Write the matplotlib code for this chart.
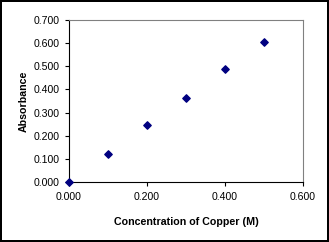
import matplotlib.pyplot as plt

# data
concentration = [0.0, 0.1, 0.2, 0.3, 0.4, 0.5]
absorbance = [0.000, 0.123, 0.248, 0.361, 0.490, 0.605]
x_ticks = [0.0, 0.2, 0.4, 0.6]
y_ticks = [0.0, 0.1, 0.2, 0.3, 0.4, 0.5, 0.6, 0.7]

plt.rcParams['font.family'] = ['Liberation Sans', 'DejaVu Sans']

fig = plt.figure(figsize=(3.29, 2.42), dpi=100)
fig.patch.set_edgecolor('black')
fig.patch.set_linewidth(1.5)
ax = fig.add_axes([69 / 329, 1 - 182 / 242, (303 - 69) / 329, (182 - 20) / 242])

ax.scatter(concentration, absorbance, marker='D', s=14, color='#000080', zorder=3, clip_on=False)

ax.set_xlim(0, 0.6)
ax.set_ylim(0, 0.7)
ax.set_xticks(x_ticks)
ax.set_yticks(y_ticks)
ax.set_xticklabels([f'{v:.3f}' for v in x_ticks])
ax.set_yticklabels([f'{v:.3f}' for v in y_ticks])
ax.tick_params(labelsize=7.6, length=3, width=0.8, direction='out', pad=4)

for side in ['top', 'right']:
    ax.spines[side].set_color('#808080')
    ax.spines[side].set_linewidth(0.8)
for side in ['left', 'bottom']:
    ax.spines[side].set_color('black')
    ax.spines[side].set_linewidth(0.8)

ax.set_xlabel('Concentration of Copper (M)', fontsize=7.7, fontweight='bold', labelpad=11)
ax.set_ylabel('Absorbance', fontsize=7.7, fontweight='bold', labelpad=3)

fig.savefig('out.png', dpi=100, edgecolor=fig.get_edgecolor())
